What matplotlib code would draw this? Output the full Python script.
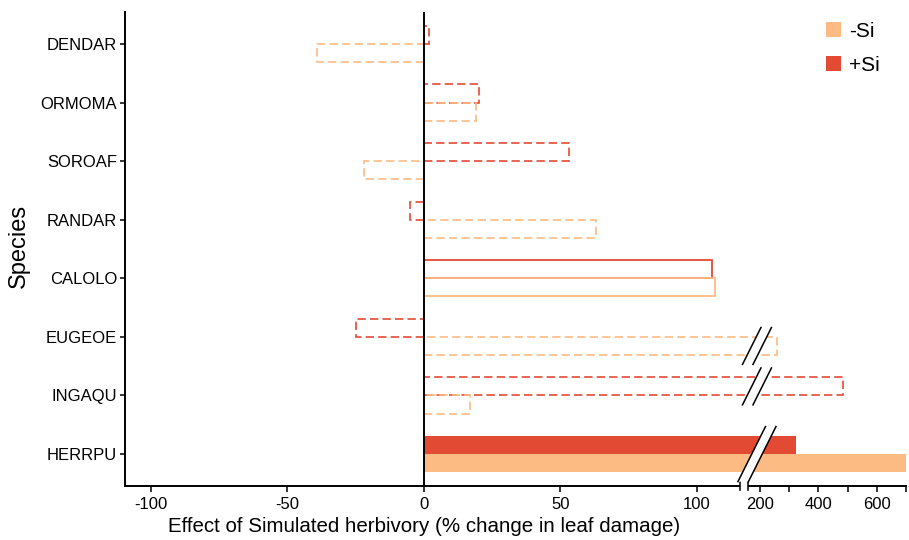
import numpy as np
import matplotlib
matplotlib.use("Agg")
import matplotlib.pyplot as plt
from matplotlib.patches import Patch, Polygon
from matplotlib.lines import Line2D

# ---------------- data ----------------
species = ["DENDAR", "ORMOMA", "SOROAF", "RANDAR", "CALOLO", "EUGEOE", "INGAQU", "HERRPU"]
minus_si = [-39, 19, -22, 63, 106.5, 260, 17, 700]
plus_si = [2, 20, 53, -5, 105.5, -25, 483, 323]
# bar style: "dashed" = not significant, "solid" = outline, "filled" = filled
minus_style = ["dashed", "dashed", "dashed", "dashed", "solid", "dashed", "dashed", "filled"]
plus_style = ["dashed", "dashed", "dashed", "dashed", "solid", "dashed", "dashed", "filled"]
major_ticks = [-100, -50, 0, 50, 100, 200, 400, 600]
major_labels = ["-100", "-50", "0", "50", "100", "200", "400", "600"]
minor_ticks = [300, 500, 700]
legend_labels = ["-Si", "+Si"]

# ---------------- style ----------------
C_MINUS = "#FDBB84"
C_PLUS = "#E34A33"
FONT = "Liberation Sans"
plt.rcParams["font.family"] = [FONT, "DejaVu Sans"]

# broken axis scale
LO, HI = 115.75, 159.0       # break from LO to HI
GAP = 2.93                   # width of gap in left-scale units
K = 0.10714                  # compression of right segment


def fwd(v):
    v = np.asarray(v, dtype=float)
    return np.where(v <= LO, v,
                    np.where(v < HI, LO + (v - LO) / (HI - LO) * GAP,
                             LO + GAP + (v - HI) * K))


def inv(f):
    f = np.asarray(f, dtype=float)
    return np.where(f <= LO, f,
                    np.where(f < LO + GAP, LO + (f - LO) / GAP * (HI - LO),
                             HI + (f - LO - GAP) / K))


W, H = 909, 540
DPI = 100
fig = plt.figure(figsize=(W / DPI, H / DPI), dpi=DPI)
ax = fig.add_axes([125 / W, 1 - 486 / H, (907 - 125) / W, (486 - 12) / H])
ax.set_xscale("function", functions=(fwd, inv))

n = len(species)
ypos = np.arange(n)[::-1].astype(float)
bh = 0.31


def draw_bar(y, val, color, style):
    if style == "filled":
        ax.barh(y, val, height=bh, color=color, edgecolor="none", zorder=2)
    elif style == "solid":
        ax.barh(y, val, height=bh, fill=False, edgecolor=color, linewidth=1.3, zorder=2)
    else:
        ax.barh(y, val, height=bh, fill=False, edgecolor=color, linewidth=1.2,
                linestyle=(0, (5, 2.5)), zorder=2)


for i in range(n):
    draw_bar(ypos[i] + bh / 2, plus_si[i], C_PLUS, plus_style[i])
    draw_bar(ypos[i] - bh / 2, minus_si[i], C_MINUS, minus_style[i])

XMIN, XMAX = -109.5, 703
YMIN, YMAX = -0.545, 7.546
ax.set_xlim(XMIN, XMAX)
ax.set_ylim(YMIN, YMAX)

ax.axvline(0, color="black", lw=1.4, zorder=3)

# spines
for s in ["top", "right", "bottom"]:
    ax.spines[s].set_visible(False)
ax.spines["left"].set_linewidth(1.4)

# broken bottom axis line with end caps at the break
ax.plot([XMIN, LO], [YMIN, YMIN], color="black", lw=1.4, clip_on=False, zorder=4,
        solid_capstyle="butt")
ax.plot([HI, XMAX], [YMIN, YMIN], color="black", lw=1.4, clip_on=False, zorder=4,
        solid_capstyle="butt")
for xb in (LO, HI):
    ax.plot([xb, xb], [YMIN - 0.06, YMIN + 0.06], color="black", lw=1.1,
            clip_on=False, zorder=4)

ax.set_xticks(major_ticks)
ax.set_xticklabels(major_labels)
ax.set_xticks(minor_ticks, minor=True)
ax.tick_params(axis="x", which="both", length=4, width=1.1, color="black",
               labelsize=12, pad=4)
ax.set_yticks(ypos)
ax.set_yticklabels(species)
ax.tick_params(axis="y", length=3.6, width=1.1, color="black", labelsize=12, pad=2)

ax.set_xlabel("Effect of Simulated herbivory (% change in leaf damage)", fontsize=14.8)
ax.xaxis.label.set_va("center")
ax.xaxis.set_label_coords((424 - 125) / 782, (486 - 527) / 474)
ax.set_ylabel("Species", fontsize=17)
ax.yaxis.label.set_va("center")
ax.yaxis.set_label_coords((19 - 125) / 782, (486 - 246) / 474)

# break marks (//) over rows whose bars cross the break
fig.canvas.draw()
MARK_X = 190.0
SLOPE = 0.5
SEP = 10.5
for i in range(n):
    spans = []
    if plus_si[i] > HI:
        spans.append((ypos[i], ypos[i] + bh))
    if minus_si[i] > HI:
        spans.append((ypos[i] - bh, ypos[i]))
    if not spans:
        continue
    y0 = min(s[0] for s in spans) - 0.16
    y1 = max(s[1] for s in spans) + 0.16
    (xc, yb) = ax.transData.transform((MARK_X, y0))
    (_, yt) = ax.transData.transform((MARK_X, y1))
    dy = yt - yb
    lb = (xc - SEP / 2 - SLOPE * dy / 2, yb)
    lt = (xc - SEP / 2 + SLOPE * dy / 2, yt)
    rb = (lb[0] + SEP, yb)
    rt = (lt[0] + SEP, yt)
    poly = Polygon([lb, lt, rt, rb], closed=True, facecolor="white", edgecolor="none",
                   transform=None, zorder=5, clip_on=False)
    fig.add_artist(poly)
    for a, b in [(lb, lt), (rb, rt)]:
        fig.add_artist(Line2D([a[0], b[0]], [a[1], b[1]], color="black", lw=1.1,
                              transform=None, zorder=6))

handles = [Patch(facecolor=C_MINUS, edgecolor="none"), Patch(facecolor=C_PLUS, edgecolor="none")]
fig.legend(handles, legend_labels, loc="upper left", bbox_to_anchor=(826 / W, 1 - 22 / H),
           frameon=False, fontsize=15, handlelength=0.72, handleheight=0.72,
           labelspacing=0.72, handletextpad=0.38, borderpad=0, borderaxespad=0)

fig.savefig("out.png", dpi=DPI)
